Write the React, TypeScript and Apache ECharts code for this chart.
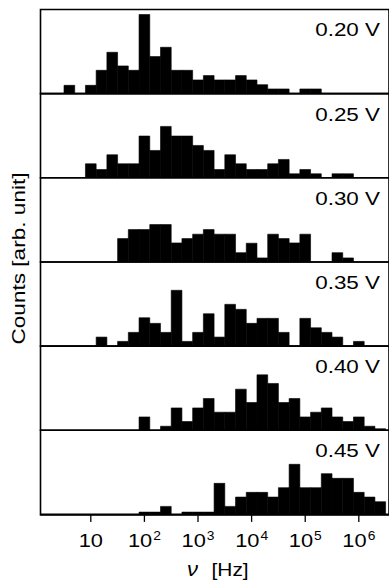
import React, { useEffect, useRef } from 'react';
import * as echarts from 'echarts';

// bin centres, log10(ν / Hz)
const LOG_NU = [0.6, 0.8, 1.0, 1.2, 1.4, 1.6, 1.8, 2.0, 2.2, 2.4, 2.6, 2.8, 3.0, 3.2, 3.4, 3.6, 3.8, 4.0, 4.2, 4.4, 4.6, 4.8, 5.0, 5.2, 5.4, 5.6, 5.8, 6.0, 6.2, 6.4];

const PANEL_LABELS = ['0.20 V', '0.25 V', '0.30 V', '0.35 V', '0.40 V', '0.45 V'];

const COUNTS_020 = [8.3, 0, 8.3, 23.3, 41.3, 27.7, 23.3, 79, 37, 46.3, 23.3, 23.3, 13.7, 18, 13.7, 13.7, 18, 13.7, 9, 4.7, 4.7, 0, 4.7, 4.7, 0, 0, 0, 0, 0, 0];
const COUNTS_025 = [0, 0, 14, 8.3, 23, 14, 14, 41.7, 27.3, 51.3, 41.7, 41.7, 32.3, 27.3, 8.3, 23, 14, 8.3, 8.3, 14, 18.3, 4, 8.3, 4, 0, 4, 4, 0, 0, 0];
const COUNTS_030 = [0, 0, 0, 0, 0, 23.3, 32.3, 32.3, 37.3, 37.3, 19, 23.3, 27.7, 32.3, 27.7, 27.7, 9.3, 18.7, 4, 27.7, 23.3, 19, 27.7, 0, 0, 9.3, 4, 0, 0, 0];
const COUNTS_035 = [0, 0, 0, 9, 0, 4.7, 13.7, 28.3, 22.7, 13.7, 55.7, 4.7, 13.7, 32.3, 9, 41.7, 36.7, 22.7, 27.7, 27.7, 13.7, 0, 27.7, 18.3, 13.7, 9, 0, 4.7, 0, 0];
const COUNTS_040 = [0, 0, 0, 0, 0, 0, 0, 13.3, 0, 4, 22.3, 8.7, 22.3, 31.7, 18, 18, 41, 27.7, 55.3, 46.7, 27.7, 31.7, 13.3, 18, 22.3, 13.3, 8.7, 13.3, 4, 1.5];
const COUNTS_045 = [0, 0, 0, 0, 0, 0, 0, 2.3, 2.3, 8, 0, 2.3, 2.3, 2.3, 31, 8, 17.3, 22, 22, 17.3, 26.7, 50, 26.7, 26.7, 40.7, 36, 36, 22, 17.3, 12.7];

const PANEL_COUNTS = [COUNTS_020, COUNTS_025, COUNTS_030, COUNTS_035, COUNTS_040, COUNTS_045];

// tick positions (exponents of 10)
const TICK_EXPONENTS = [1, 2, 3, 4, 5, 6];

const BIN_WIDTH = 0.2;
const FONT = '"Liberation Sans", Arial, Helvetica, sans-serif';

const W = 389;
const H = 583;
const LEFT = 40.5;
const GRID_W = 354.5;
const TOP0 = 9.5;
const PH = 84.15;
const XMIN = 0.0616;
const XMAX = 6.563;
const YMAX = 84;

const TICK_FS = 19;
const SUP_FS = 12;
const TEXT_SX = 1.15;
const DIGIT_EM = 0.556;

export default function App() {
  const ref = useRef<HTMLDivElement>(null);

  useEffect(() => {
    if (!ref.current) return;
    const chart = echarts.init(ref.current, undefined, { renderer: 'svg' });
    const n = PANEL_COUNTS.length;

    const grids = PANEL_COUNTS.map((_, i) => ({
      left: LEFT,
      top: TOP0 + i * PH,
      width: GRID_W,
      height: PH,
      show: true,
      borderColor: '#000',
      borderWidth: 1.6,
      backgroundColor: 'transparent',
    }));

    const xAxes = PANEL_COUNTS.map((_, i) => ({
      type: 'value',
      gridIndex: i,
      min: XMIN,
      max: XMAX,
      show: i === n - 1,
      splitLine: { show: false },
      axisLine: { show: true, onZero: false, lineStyle: { color: '#000', width: 1.6 } },
      axisTick: { show: false },
      axisLabel: { show: false },
    }));

    const yAxes = PANEL_COUNTS.map((_, i) => ({
      type: 'value',
      gridIndex: i,
      min: 0,
      max: YMAX,
      show: false,
      splitLine: { show: false },
    }));

    const series = PANEL_COUNTS.map((counts, i) => ({
      type: 'custom',
      xAxisIndex: i,
      yAxisIndex: i,
      clip: true,
      silent: true,
      data: LOG_NU.map((c, j) => [c, counts[j]]),
      renderItem: (params: any, api: any) => {
        const c = api.value(0);
        const v = api.value(1);
        if (!v) return null;
        const p0 = api.coord([c - BIN_WIDTH / 2, 0]);
        const p1 = api.coord([c + BIN_WIDTH / 2, v]);
        return {
          type: 'rect',
          shape: { x: p0[0], y: p1[1], width: p1[0] - p0[0], height: p0[1] - p1[1] },
          style: { fill: '#000', stroke: '#000', lineWidth: 0.6 },
        };
      },
    }));

    chart.setOption({
      animation: false,
      backgroundColor: '#fff',
      grid: grids,
      xAxis: xAxes,
      yAxis: yAxes,
      series,
    });

    const txt = (extra: any) => ({ fill: '#000', fontFamily: FONT, ...extra });

    const graphics: any[] = PANEL_LABELS.map((t, i) => ({
      type: 'text',
      x: 380,
      y: TOP0 + i * PH + 20,
      scaleX: 1.18,
      style: txt({ text: t, fontSize: 19, align: 'right', verticalAlign: 'middle' }),
    }));

    graphics.push({
      type: 'text',
      x: 18.5,
      y: 258.5,
      rotation: Math.PI / 2,
      scaleX: 1.19,
      style: txt({ text: 'Counts [arb. unit]', fontSize: 19, align: 'center', verticalAlign: 'middle' }),
    });

    graphics.push({
      type: 'text',
      x: 192.5,
      y: 569,
      scaleX: 1.1,
      style: txt({ text: 'ν', fontSize: 20, fontStyle: 'italic', align: 'center', verticalAlign: 'middle' }),
    });
    graphics.push({
      type: 'text',
      x: 211.5,
      y: 569,
      scaleX: 1.1,
      style: txt({ text: '[Hz]', fontSize: 19, align: 'left', verticalAlign: 'middle' }),
    });

    // x ticks and labels placed through the bottom panel's axis scale
    const gi = n - 1;
    TICK_EXPONENTS.forEach((k) => {
      const p = chart.convertToPixel({ gridIndex: gi } as any, [k, 0]) as number[];
      const x = p[0];
      const y = p[1];
      graphics.push({
        type: 'line',
        shape: { x1: x, y1: y, x2: x, y2: y + 7.5 },
        style: { stroke: '#000', lineWidth: 1.3 },
      });
      const baseW = 2 * DIGIT_EM * TICK_FS * TEXT_SX;
      const gap = 1;
      const supW = k === 1 ? 0 : DIGIT_EM * SUP_FS * TEXT_SX + gap;
      const left = x - (baseW + supW) / 2;
      graphics.push({
        type: 'text',
        x: left,
        y: y + 26,
        scaleX: TEXT_SX,
        style: txt({ text: '10', fontSize: TICK_FS, align: 'left', verticalAlign: 'middle' }),
      });
      if (k !== 1) {
        graphics.push({
          type: 'text',
          x: left + baseW + gap,
          y: y + 21,
          scaleX: TEXT_SX,
          style: txt({ text: String(k), fontSize: SUP_FS, align: 'left', verticalAlign: 'middle' }),
        });
      }
    });

    chart.setOption({ graphic: graphics });

    return () => chart.dispose();
  }, []);

  return (
    <div
      ref={ref}
      style={{ position: 'fixed', left: 0, top: 0, width: W, height: H, background: '#fff' }}
    />
  );
}
